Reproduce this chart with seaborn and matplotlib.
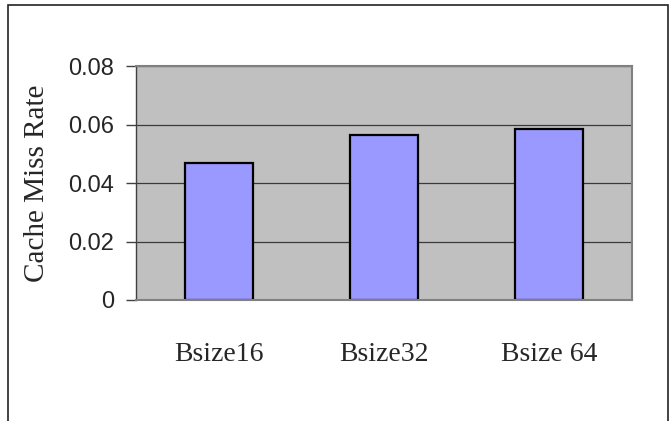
import matplotlib
matplotlib.use("Agg")
import matplotlib.pyplot as plt
import seaborn as sns
import pandas as pd
from matplotlib.patches import Rectangle

sns.set_style("white")

categories = ["Bsize16", "Bsize32", "Bsize 64"]
miss_rate = [0.0468, 0.0563, 0.0583]
y_ticks = [0, 0.02, 0.04, 0.06, 0.08]
y_tick_labels = ["0", "0.02", "0.04", "0.06", "0.08"]

df = pd.DataFrame({"block": categories, "rate": miss_rate})

fig = plt.figure(figsize=(6.71, 4.21), dpi=100)
ax = fig.add_axes([136 / 671, 1 - 300 / 421, 496 / 671, 234 / 421])
ax.set_facecolor("#C0C0C0")

ax.set_axisbelow(True)
for t in y_ticks[1:]:
    ax.axhline(t, color="#3a3a3a", lw=0.9, zorder=0)

sns.barplot(data=df, x="block", y="rate", ax=ax, color="#9999FF", saturation=1,
            width=0.41, edgecolor="black", linewidth=1.6, zorder=2)

ax.set_xlim(-0.5, 2.5)
ax.set_ylim(0, 0.08)
ax.set_yticks(y_ticks)
ax.set_yticklabels(y_tick_labels, fontfamily="Liberation Sans", fontsize=17)
ax.set_xticks(range(len(categories)))
ax.set_xticklabels(categories, fontfamily="Liberation Serif", fontsize=20)
ax.tick_params(axis="x", length=0, pad=30.5)
ax.tick_params(axis="y", length=7, width=1, color="#404040", pad=9, left=True)

ax.set_xlabel("")
ax.set_ylabel("Cache Miss Rate", fontfamily="Liberation Serif", fontsize=21)
ax.yaxis.set_label_coords(-0.173, 0.5)

for side in ["top", "right", "bottom"]:
    ax.spines[side].set_color("#808080")
    ax.spines[side].set_linewidth(1.5)
ax.spines["left"].set_color("#404040")
ax.spines["left"].set_linewidth(1)

# outer chart frame, open at the bottom like the source
fig.patches.append(Rectangle((8 / 671, -0.1), 660 / 671, 1.1 - 5 / 421,
                             transform=fig.transFigure, fill=False,
                             edgecolor="#222222", linewidth=1.2))

fig.savefig("out.png", dpi=100)
